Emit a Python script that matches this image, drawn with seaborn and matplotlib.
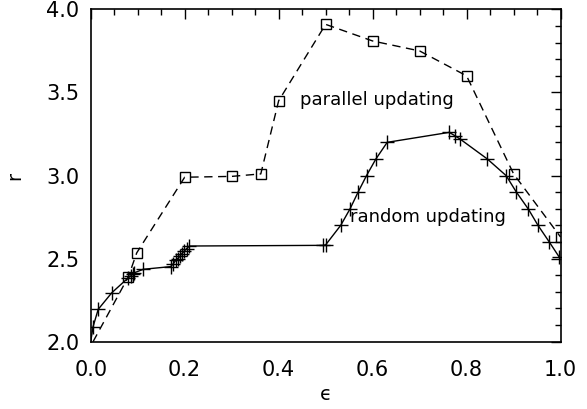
import matplotlib
matplotlib.use("Agg")
import matplotlib.pyplot as plt
from matplotlib.ticker import MultipleLocator
import seaborn as sns
import pandas as pd

# random updating (solid line, plus markers)
random_eps = [0.0, 0.005, 0.016, 0.045, 0.080, 0.085, 0.089, 0.093, 0.112,
              0.170, 0.176, 0.181, 0.185, 0.190, 0.194, 0.199, 0.204, 0.210,
              0.495, 0.500, 0.532, 0.552, 0.569, 0.587, 0.607, 0.631,
              0.763, 0.775, 0.786, 0.844, 0.884, 0.906, 0.931, 0.952, 0.976, 0.997]
random_r = [2.00, 2.09, 2.195, 2.295, 2.385, 2.395, 2.405, 2.415, 2.436,
            2.452, 2.47, 2.49, 2.50, 2.515, 2.53, 2.545, 2.56, 2.576,
            2.58, 2.583, 2.70, 2.80, 2.90, 3.00, 3.10, 3.20,
            3.26, 3.24, 3.22, 3.10, 3.00, 2.90, 2.80, 2.70, 2.60, 2.51]

# parallel updating (dashed line, open squares)
parallel_eps = [0.005, 0.080, 0.098, 0.200, 0.300, 0.362, 0.400, 0.500,
                0.600, 0.700, 0.800, 0.900, 1.000]
parallel_r = [2.00, 2.39, 2.535, 2.99, 2.995, 3.01, 3.45, 3.91,
              3.81, 3.75, 3.60, 3.01, 2.63]

x_ticks = [0.0, 0.2, 0.4, 0.6, 0.8, 1.0]
y_ticks = [2.0, 2.5, 3.0, 3.5, 4.0]

sns.set_style("white")
plt.rcParams["font.family"] = ["DejaVu Sans"]
plt.rcParams["text.color"] = "black"
plt.rcParams["axes.labelcolor"] = "black"

fig = plt.figure(figsize=(5.87, 4.09), dpi=100)
ax = fig.add_axes([0.1545, 0.1645, 0.8005, 0.8125])

df_rand = pd.DataFrame({"eps": random_eps, "r": random_r})
df_par = pd.DataFrame({"eps": parallel_eps, "r": parallel_r})

sns.lineplot(data=df_rand, x="eps", y="r", ax=ax, estimator=None, sort=False,
             color="black", linewidth=1.0, marker="+", markersize=10,
             markeredgewidth=1.0, markeredgecolor="black",
             markevery=list(range(1, len(random_eps))))
sns.lineplot(data=df_par, x="eps", y="r", ax=ax, estimator=None,
             sort=False, color="black", linewidth=1.0,
             marker="s", markersize=7.5, markerfacecolor="none",
             markeredgecolor="black", markeredgewidth=1.0,
             markevery=list(range(1, len(parallel_eps))))
ax.lines[-1].set_dashes([6, 4])

ax.set_xlim(0.0, 1.0)
ax.set_ylim(2.0, 4.0)
ax.set_xticks(x_ticks)
ax.set_yticks(y_ticks)
ax.set_xticklabels([f"{v:.1f}" for v in x_ticks])
ax.set_yticklabels([f"{v:.1f}" for v in y_ticks])
ax.xaxis.set_minor_locator(MultipleLocator(0.05))
ax.yaxis.set_minor_locator(MultipleLocator(0.1))
ax.tick_params(which="both", direction="in", top=True, right=True,
               colors="black", labelcolor="black", width=1.0, labelsize=15)
ax.tick_params(which="major", length=7)
ax.tick_params(which="minor", length=4)
ax.tick_params(axis="x", which="major", pad=13)
ax.tick_params(axis="y", which="major", pad=8)
for s in ax.spines.values():
    s.set_color("black")
    s.set_linewidth(1.2)

ax.set_xlabel("ϵ", fontsize=14, labelpad=4, color="black")
ax.set_ylabel("r", fontsize=14, labelpad=16, rotation=90, color="black")

ax.text(0.446, 3.455, "parallel updating", fontsize=13, va="center",
        ha="left", color="black")
ax.text(0.552, 2.75, "random updating", fontsize=13, va="center",
        ha="left", color="black")

fig.savefig("out.png", dpi=100, facecolor="white")
